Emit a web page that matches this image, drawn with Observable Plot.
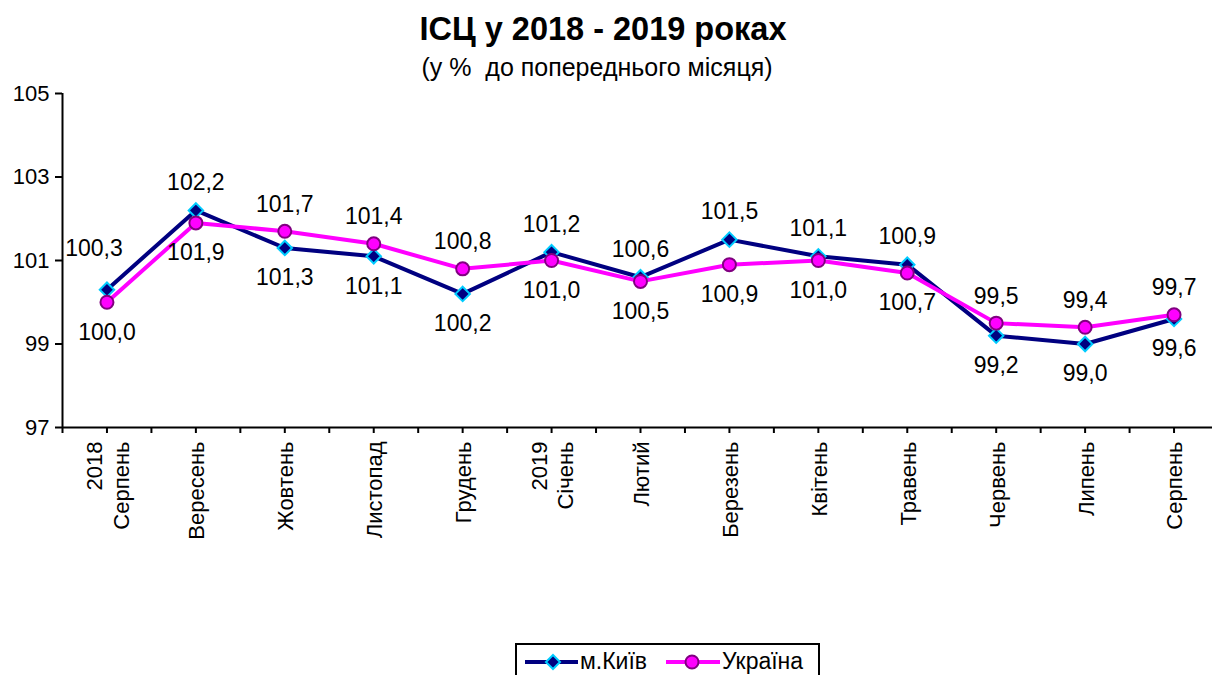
<!DOCTYPE html>
<html><head><meta charset="utf-8">
<script src="https://cdn.jsdelivr.net/npm/d3@7"></script>
<script src="https://cdn.jsdelivr.net/npm/@observablehq/plot@0.6"></script>
<style>
body{margin:0;background:#fff;font-family:Arial,"Liberation Sans",sans-serif;color:#000;}
#wrap{position:relative;width:1212px;height:675px;overflow:hidden;background:#fff;}
#title{position:absolute;top:11px;left:0;width:1206px;text-align:center;font-weight:bold;font-size:32.5px;line-height:36px;z-index:2;}
#subtitle{position:absolute;top:53px;left:0;width:1194px;text-align:center;font-size:25px;line-height:28px;z-index:2;}
#chart{position:absolute;top:60px;left:0;z-index:1;}
#legend{position:absolute;top:643px;left:515px;width:305px;height:40px;border:2px solid #000;box-sizing:border-box;font-size:23px;z-index:2;}
#legend .item{position:absolute;top:3px;display:flex;align-items:center;}
#legend svg{margin-right:2px;}
</style></head>
<body><div id="wrap">
<div id="chart"></div>
<div id="title">ІСЦ у 2018 - 2019 роках</div>
<div id="subtitle">(у %&nbsp; до попереднього місяця)</div>
<div id="legend"></div>
</div>
<script>
const months = ["2018\nСерпень","Вересень","Жовтень","Листопад","Грудень","2019\nСічень","Лютий","Березень","Квітень","Травень","Червень","Липень","Серпень"];
const kyiv = [100.3,102.2,101.3,101.1,100.2,101.2,100.6,101.5,101.1,100.9,99.2,99.0,99.6];
const ukraine = [100.0,101.9,101.7,101.4,100.8,101.0,100.5,100.9,101.0,100.7,99.5,99.4,99.7];
const yTicks = [97,99,101,103,105];
const seriesNames = ["м.Київ","Україна"];

const navy = "#000080", cyan = "#00ccff", magenta = "#ff00ff", purple = "#800080";
const table = months.map((m,i)=>({i, month:m, kyiv:kyiv[i], ukraine:ukraine[i]}));
const fmt = v => v.toFixed(1).replace(".", ",");
const halfTicks = d3.range(0, 27).map(k => -0.5 + k*0.5);
const FS = 23;

const chart = Plot.plot({
  width: 1212, height: 575,
  marginTop: 33, marginBottom: 208, marginLeft: 62, marginRight: 0,
  x: {type: "linear", domain: [-0.5, 12.5], range: [62, 1218], label: null},
  y: {domain: [97, 105], label: null},
  style: {fontFamily: "Arial, 'Liberation Sans', sans-serif", fontSize: FS + "px", color: "#000", background: "none"},
  marks: [
    Plot.axisY({ticks: yTicks, tickSize: 7, tickPadding: 6, fontSize: 22, strokeWidth: 2, tickFormat: d => d, label: null}),
    Plot.axisX({ticks: halfTicks, tickSize: 6, strokeWidth: 2, tickFormat: () => "", label: null}),
    Plot.ruleY([97], {strokeWidth: 2}),
    Plot.ruleX([-0.5], {y1: 97, y2: 105, strokeWidth: 2}),
    Plot.text(table, {x: "i", y: 97, text: "month", rotate: -90, textAnchor: "end", lineAnchor: "middle", lineHeight: 1.2, dy: 14, fontSize: 22}),
    Plot.line(table, {x: "i", y: "kyiv", stroke: navy, strokeWidth: 4}),
    Plot.dot(table, {x: "i", y: "kyiv", symbol: "diamond2", r: 6.5, fill: navy, stroke: cyan, strokeWidth: 2}),
    Plot.line(table, {x: "i", y: "ukraine", stroke: magenta, strokeWidth: 4}),
    Plot.dot(table, {x: "i", y: "ukraine", symbol: "circle", r: 6.5, fill: magenta, stroke: purple, strokeWidth: 2}),
    Plot.text(table, {filter: d => d.kyiv > d.ukraine && d.i > 0, x: "i", y: "kyiv", text: d => fmt(d.kyiv), dy: -28, fontSize: FS}),
    Plot.text(table, {filter: d => d.kyiv > d.ukraine && d.i === 0, x: "i", y: "kyiv", text: d => fmt(d.kyiv), dy: -41, dx: -13, fontSize: FS}),
    Plot.text(table, {filter: d => d.kyiv <= d.ukraine, x: "i", y: "kyiv", text: d => fmt(d.kyiv), dy: 30, fontSize: FS}),
    Plot.text(table, {filter: d => d.kyiv > d.ukraine, x: "i", y: "ukraine", text: d => fmt(d.ukraine), dy: 30, fontSize: FS}),
    Plot.text(table, {filter: d => d.kyiv <= d.ukraine, x: "i", y: "ukraine", text: d => fmt(d.ukraine), dy: -27, fontSize: FS})
  ]
});
document.getElementById("chart").appendChild(chart);

const legend = document.getElementById("legend");
const sw = [
  `<svg width="58" height="24"><line x1="5" y1="12" x2="58" y2="12" stroke="${navy}" stroke-width="4"/><path d="M33,5 L40,12 L33,19 L26,12 Z" fill="${navy}" stroke="${cyan}" stroke-width="2"/></svg>`,
  `<svg width="58" height="24"><line x1="4" y1="12" x2="58" y2="12" stroke="${magenta}" stroke-width="4"/><circle cx="30" cy="12" r="6.5" fill="${magenta}" stroke="${purple}" stroke-width="2"/></svg>`
];
const lefts = [3, 145];
seriesNames.forEach((n, k) => {
  const d = document.createElement("div");
  d.className = "item";
  d.style.left = lefts[k] + "px";
  d.innerHTML = sw[k] + `<span>${n}</span>`;
  legend.appendChild(d);
});
</script>
</body></html>
